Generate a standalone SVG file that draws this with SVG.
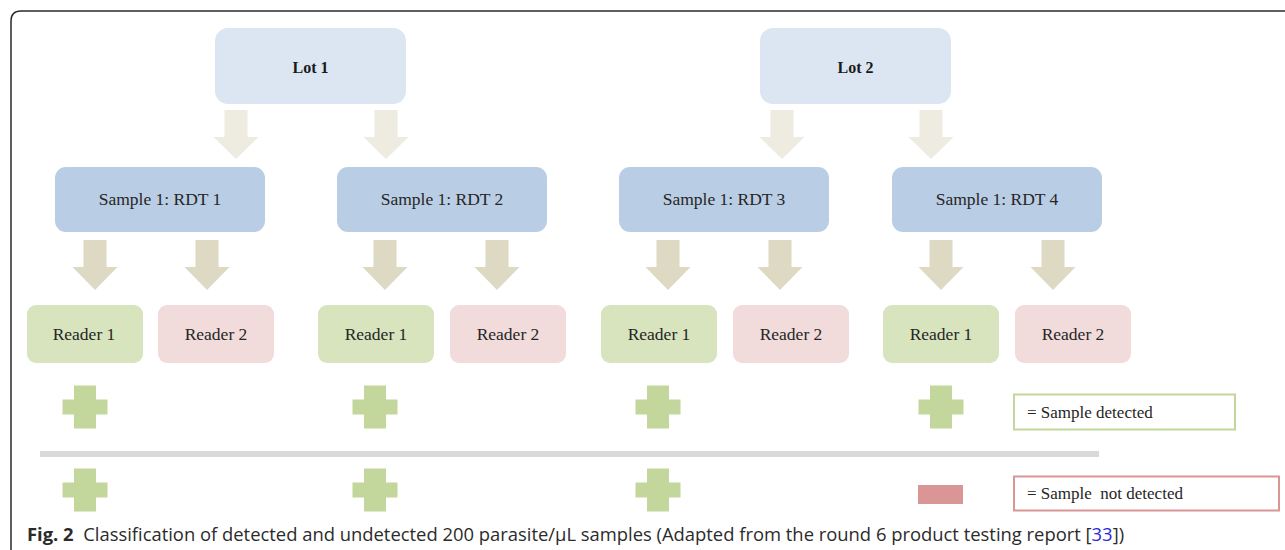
<svg xmlns="http://www.w3.org/2000/svg" width="1285" height="550" viewBox="0 0 1285 550">
  <defs>
    <style>
      .lot { fill: #dce6f2; }
      .sample { fill: #b9cde5; }
      .r1 { fill: #d7e4bd; }
      .r2 { fill: #f2dcdb; }
      .lbl { font-family: "Liberation Serif", "Times New Roman", serif; font-size: 17.5px; fill: #262626; text-anchor: middle; }
      .lotlbl { font-family: "Liberation Serif", "Times New Roman", serif; font-size: 16px; font-weight: bold; fill: #1a1a1a; text-anchor: middle; }
      .leg { font-family: "Liberation Serif", "Times New Roman", serif; font-size: 17px; fill: #262626; white-space: pre; }
      .arrowA { fill: #eeece1; }
      .arrowB { fill: #ddd9c3; }
      .plus { fill: #c3d69b; }
      .cap { font-family: "Open Sans", "Noto Sans", sans-serif; font-size: 18.4px; fill: #2b2b2b; white-space: pre; }
    </style>
    <!-- block arrow pointing down, centred on x=0, top at y=0 -->
    <path id="arrowTop" d="M -11.5 0 H 11.5 V 27 H 22.5 L 0 49 L -22.5 27 H -11.5 Z"/>
    <path id="arrowLow" d="M -11.5 0 H 11.5 V 27 H 22.5 L 0 50 L -22.5 27 H -11.5 Z"/>
    <!-- plus sign centred on 0,0 -->
    <path id="plusSign" d="M -11 -21.5 H 11 V -7.5 H 22.5 V 7.5 H 11 V 21.5 H -11 V 7.5 H -22.5 V -7.5 H -11 Z"/>
  </defs>

  <rect width="1285" height="550" fill="#ffffff"/>

  <!-- figure frame -->
  <path d="M 11 550 V 21 Q 11 11 21 11 H 1285" fill="none" stroke="#2b2b2b" stroke-width="1.5"/>

  <!-- connectors -->
  <g id="connectors">
    <use href="#arrowTop" class="arrowA" x="236" y="110"/>
    <use href="#arrowTop" class="arrowA" x="386" y="110"/>
    <use href="#arrowTop" class="arrowA" x="782" y="110"/>
    <use href="#arrowTop" class="arrowA" x="931" y="110"/>

    <use href="#arrowLow" class="arrowB" x="95" y="240"/>
    <use href="#arrowLow" class="arrowB" x="207" y="240"/>
    <use href="#arrowLow" class="arrowB" x="385" y="240"/>
    <use href="#arrowLow" class="arrowB" x="497" y="240"/>
    <use href="#arrowLow" class="arrowB" x="668" y="240"/>
    <use href="#arrowLow" class="arrowB" x="780" y="240"/>
    <use href="#arrowLow" class="arrowB" x="941" y="240"/>
    <use href="#arrowLow" class="arrowB" x="1053" y="240"/>
  </g>

  <!-- lots -->
  <g id="lot1">
    <rect class="lot" x="215" y="28" width="191" height="76" rx="13"/>
    <text class="lotlbl" x="310.5" y="73">Lot 1</text>
  </g>
  <g id="lot2">
    <rect class="lot" x="760" y="28" width="191" height="76" rx="13"/>
    <text class="lotlbl" x="855.5" y="73">Lot 2</text>
  </g>

  <!-- samples -->
  <g id="rdt1">
    <rect class="sample" x="55" y="167" width="210" height="65" rx="11"/>
    <text class="lbl" x="160" y="205">Sample 1: RDT 1</text>
  </g>
  <g id="rdt2">
    <rect class="sample" x="337" y="167" width="210" height="65" rx="11"/>
    <text class="lbl" x="442" y="205">Sample 1: RDT 2</text>
  </g>
  <g id="rdt3">
    <rect class="sample" x="619" y="167" width="210" height="65" rx="11"/>
    <text class="lbl" x="724" y="205">Sample 1: RDT 3</text>
  </g>
  <g id="rdt4">
    <rect class="sample" x="892" y="167" width="210" height="65" rx="11"/>
    <text class="lbl" x="997" y="205">Sample 1: RDT 4</text>
  </g>

  <!-- readers -->
  <g id="rdt1-reader1">
    <rect class="r1" x="27" y="305" width="116" height="58" rx="9"/>
    <text class="lbl" x="84" y="340">Reader 1</text>
  </g>
  <g id="rdt1-reader2">
    <rect class="r2" x="158" y="305" width="116" height="58" rx="9"/>
    <text class="lbl" x="216" y="340">Reader 2</text>
  </g>
  <g id="rdt2-reader1">
    <rect class="r1" x="318" y="305" width="116" height="58" rx="9"/>
    <text class="lbl" x="376" y="340">Reader 1</text>
  </g>
  <g id="rdt2-reader2">
    <rect class="r2" x="450" y="305" width="116" height="58" rx="9"/>
    <text class="lbl" x="508" y="340">Reader 2</text>
  </g>
  <g id="rdt3-reader1">
    <rect class="r1" x="601" y="305" width="116" height="58" rx="9"/>
    <text class="lbl" x="659" y="340">Reader 1</text>
  </g>
  <g id="rdt3-reader2">
    <rect class="r2" x="733" y="305" width="116" height="58" rx="9"/>
    <text class="lbl" x="791" y="340">Reader 2</text>
  </g>
  <g id="rdt4-reader1">
    <rect class="r1" x="883" y="305" width="116" height="58" rx="9"/>
    <text class="lbl" x="941" y="340">Reader 1</text>
  </g>
  <g id="rdt4-reader2">
    <rect class="r2" x="1015" y="305" width="116" height="58" rx="9"/>
    <text class="lbl" x="1073" y="340">Reader 2</text>
  </g>

  <!-- results: upper row -->
  <g id="results-upper">
    <use href="#plusSign" class="plus" x="85" y="407"/>
    <use href="#plusSign" class="plus" x="375" y="407"/>
    <use href="#plusSign" class="plus" x="658" y="407"/>
    <use href="#plusSign" class="plus" x="941" y="407"/>
  </g>

  <!-- divider -->
  <rect x="40" y="451" width="1059" height="6" fill="#d9d9d9"/>

  <!-- results: lower row -->
  <g id="results-lower">
    <use href="#plusSign" class="plus" x="85" y="490"/>
    <use href="#plusSign" class="plus" x="375" y="490"/>
    <use href="#plusSign" class="plus" x="658" y="490"/>
    <rect x="918" y="485" width="45" height="19" fill="#d99694"/>
  </g>

  <!-- legend -->
  <g id="legend-detected">
    <rect x="1014" y="394.5" width="221" height="35" fill="#ffffff" stroke="#c3d69b" stroke-width="2"/>
    <text class="leg" x="1027" y="418">= Sample detected</text>
  </g>
  <g id="legend-not-detected">
    <rect x="1014" y="476.5" width="265" height="34" fill="#ffffff" stroke="#d99694" stroke-width="2"/>
    <text class="leg" x="1027" y="499">= Sample  not detected</text>
  </g>

  <!-- caption -->
  <text class="cap" x="27" y="541"><tspan font-weight="bold">Fig. 2</tspan>  Classification of detected and undetected 200 parasite/μL samples (Adapted from the round 6 product testing report [<tspan fill="#2b2bd9">33</tspan>])</text>
</svg>
